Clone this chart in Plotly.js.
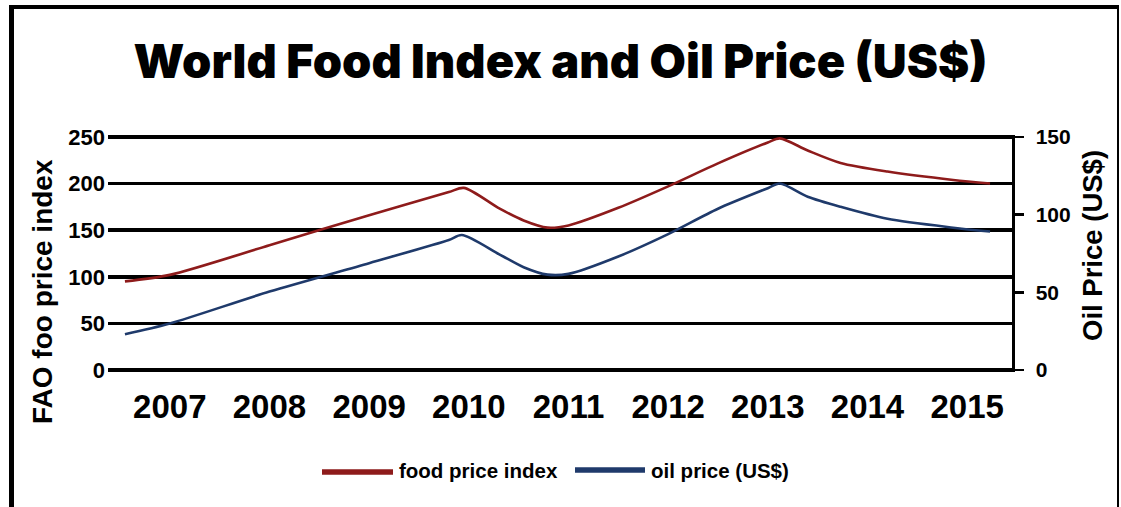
<!DOCTYPE html>
<html>
<head>
<meta charset="utf-8">
<script src="https://cdn.plot.ly/plotly-3.0.1.min.js"></script>
<style>
  html, body { margin: 0; padding: 0; background: #fff; }
  #chart { position: absolute; left: 0; top: 0; width: 1121px; height: 507px; }
  #frame { position: absolute; left: 9px; top: 5px; width: 1103px; height: 498px;
           border-left: 5px solid #000; border-top: 4px solid #000;
           border-right: 2px solid #000; border-bottom: 2px solid #000; pointer-events: none; }
</style>
</head>
<body>
<div id="chart"></div>
<div id="frame"></div>
<script>
// ---- data ----
const chartTitle = "World Food Index and Oil Price (US$)";
const leftAxisTitle = "FAO foo price index";
const rightAxisTitle = "Oil Price (US$)";
const yearTicks = [2007, 2008, 2009, 2010, 2011, 2012, 2013, 2014, 2015];
const leftTicks = [0, 50, 100, 150, 200, 250];
const rightTicks = [0, 50, 100, 150];

const foodName = "food price index";
const foodX = [2006.55, 2007.0, 2008.0, 2009.0, 2009.8, 2009.95, 2010.31, 2010.55, 2010.79, 2011.0, 2011.5, 2012.0, 2012.5, 2013.0, 2013.12, 2013.4, 2013.73, 2014.2, 2014.86, 2015.23];
const foodY = [95.1, 102.1, 133.9, 166.0, 190.8, 195.3, 173.0, 160.4, 152.7, 155.1, 174.0, 197.0, 221.6, 244.0, 248.4, 235.4, 222.0, 212.8, 203.8, 200.0];

const oilName = "oil price (US$)";
const oilX = [2006.55, 2007.0, 2008.0, 2009.0, 2009.8, 2009.93, 2010.31, 2010.55, 2010.79, 2011.0, 2011.5, 2012.0, 2012.5, 2013.0, 2013.12, 2013.4, 2013.73, 2014.2, 2014.86, 2015.23];
const oilY = [23.1, 30.0, 50.5, 68.8, 83.7, 86.9, 74.3, 66.2, 61.4, 61.9, 73.1, 87.5, 103.8, 117.0, 120.0, 111.5, 105.0, 97.3, 91.6, 89.1];

const foodColor = "#8e1b1b";
const oilColor = "#1f3a6b";

const boldFont = "Liberation Sans, Arial, sans-serif";

const traces = [
  { x: foodX, y: foodY, name: foodName, type: "scatter", mode: "lines",
    line: { color: foodColor, width: 2.6, shape: "spline", smoothing: 0.8 }, yaxis: "y", showlegend: false },
  { x: oilX, y: oilY, name: oilName, type: "scatter", mode: "lines",
    line: { color: oilColor, width: 2.6, shape: "spline", smoothing: 0.8 }, yaxis: "y2", showlegend: false }
];

// plot area: value 0 at y=370, 250 at y=137; range padded by 2 units each side so edge grid lines show
const L = 108, R = 1012, T = 135, B = 372;
const W = R - L, H = B - T;
const px = v => (v - L) / W;
const py = v => (B - v) / H;

const layout = {
  width: 1121, height: 507,
  margin: { l: L, r: 1121 - R, t: T, b: 507 - B },
  paper_bgcolor: "#fff", plot_bgcolor: "#fff",
  showlegend: false,
  title: { text: chartTitle, x: 0.5, xanchor: "center", y: 1 - 62 / 507, yanchor: "middle",
           font: { family: "Inter, Roboto, Liberation Sans, sans-serif", size: 47, weight: 900, color: "#000" } },
  xaxis: { range: [2006.38, 2015.45], tickvals: yearTicks, ticktext: yearTicks.map(String),
           showgrid: false, zeroline: false, showline: false, ticks: "", ticklabelstandoff: 12,
           tickfont: { family: boldFont, size: 33, weight: 700, color: "#000" } },
  yaxis: { range: [-2, 252], tickvals: leftTicks, showgrid: true, gridcolor: "#000", gridwidth: 3.5,
           zeroline: false, showline: false, ticks: "", ticklabelstandoff: 2,
           tickfont: { family: boldFont, size: 22, weight: 700, color: "#000" } },
  yaxis2: { range: [-1.2, 151.2], tickvals: rightTicks, overlaying: "y", side: "right",
            showgrid: false, zeroline: false, showline: true, linecolor: "#000", linewidth: 2.5,
            ticks: "outside", ticklen: 9, tickwidth: 2.5, tickcolor: "#000", ticklabelstandoff: 8,
            tickfont: { family: boldFont, size: 21, weight: 700, color: "#000" } },
  annotations: [
    { text: leftAxisTitle, xref: "paper", yref: "paper", x: px(42), y: py(292), textangle: -90,
      showarrow: false, xanchor: "center", yanchor: "middle",
      font: { family: boldFont, size: 28, weight: 700, color: "#000" } },
    { text: rightAxisTitle, xref: "paper", yref: "paper", x: px(1092), y: py(246), textangle: -90,
      showarrow: false, xanchor: "center", yanchor: "middle",
      font: { family: boldFont, size: 27.5, weight: 700, color: "#000" } },
    { text: foodName, xref: "paper", yref: "paper", x: px(397), y: py(470), showarrow: false,
      xanchor: "left", yanchor: "middle", font: { family: boldFont, size: 20.5, weight: 700, color: "#000" } },
    { text: oilName, xref: "paper", yref: "paper", x: px(649), y: py(470), showarrow: false,
      xanchor: "left", yanchor: "middle", font: { family: boldFont, size: 20.5, weight: 700, color: "#000" } }
  ],
  shapes: [
    { type: "line", xref: "paper", yref: "paper", x0: px(322), x1: px(393), y0: py(472), y1: py(472),
      line: { color: foodColor, width: 5.5 } },
    { type: "line", xref: "paper", yref: "paper", x0: px(575), x1: px(645), y0: py(470), y1: py(470),
      line: { color: oilColor, width: 5.5 } }
  ]
};

Plotly.newPlot("chart", traces, layout, { displayModeBar: false, staticPlot: true });
</script>
</body>
</html>
